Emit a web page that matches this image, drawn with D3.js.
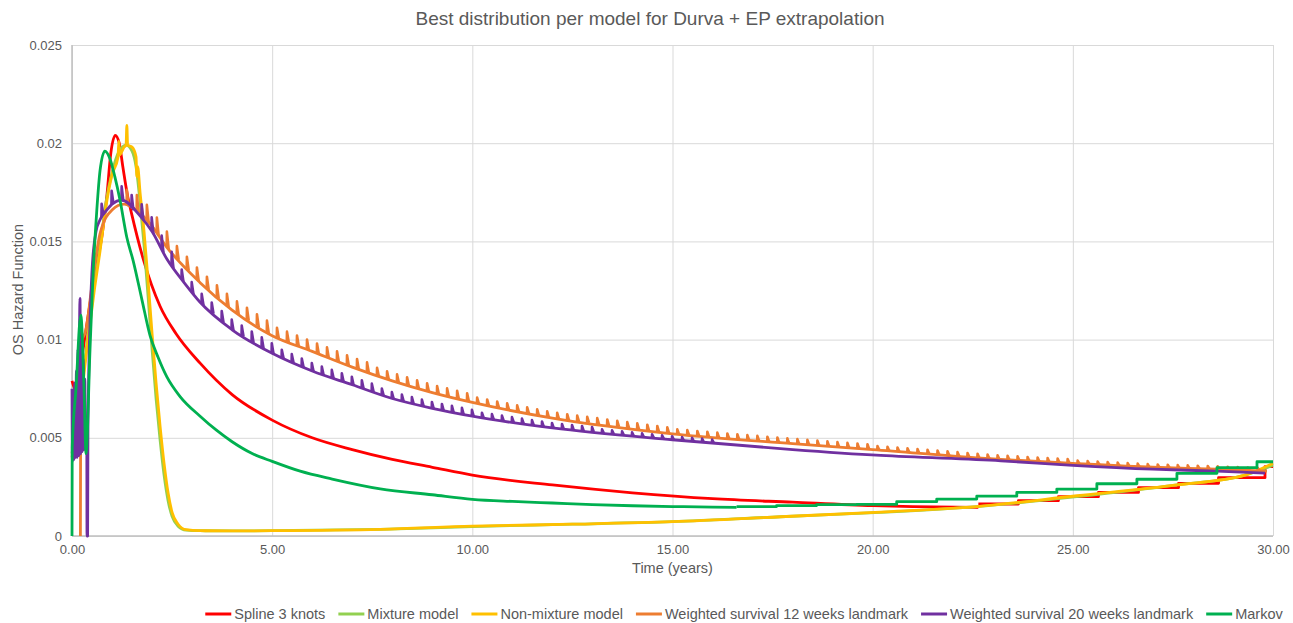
<!DOCTYPE html>
<html>
<head>
<meta charset="utf-8">
<script src="https://cdn.jsdelivr.net/npm/d3@7"></script>
<style>
  body { margin: 0; background: #fff; }
  text { font-family: "Liberation Sans", Arial, sans-serif; fill: #595959; }
</style>
</head>
<body>
<div id="chart"></div>
<script>
//  Axis ticks
var xTicks = [0, 5, 10, 15, 20, 25, 30];
var xTickLabels = ["0.00", "5.00", "10.00", "15.00", "20.00", "25.00", "30.00"];
var yTicks = [0, 0.005, 0.01, 0.015, 0.02, 0.025];
var yTickLabels = ["0", "0.005", "0.01", "0.015", "0.02", "0.025"];

//  Series names (legend order)
var seriesNames = ["Spline 3 knots", "Mixture model", "Non-mixture model",
  "Weighted survival 12 weeks landmark", "Weighted survival 20 weeks landmark", "Markov"];

//  Spline 3 knots
var splineT = [0, 0.1, 0.2, 0.35, 0.5, 0.6, 0.75, 0.87, 0.97, 1.08, 1.18, 1.27, 1.39, 1.49, 1.78, 2.2, 2.6, 3.2, 4, 5, 6, 7, 8, 9, 10, 12, 14, 16, 18, 20, 21, 22.64];
var splineV = [0.0079, 0.0074, 0.0085, 0.0105, 0.0125, 0.0137, 0.0153, 0.0173, 0.0195, 0.0204, 0.0200, 0.0188, 0.0173, 0.0164, 0.0141, 0.0117, 0.0103, 0.0088, 0.0072, 0.0059, 0.0050, 0.0044, 0.0039, 0.0035, 0.0031, 0.0026, 0.0022, 0.0019, 0.00172, 0.00155, 0.0015, 0.00146];
var splineStepT = [22.64, 23.64, 24.64, 25.64, 26.64, 27.64, 28.64, 29.8, 30];
var splineStepV = [0.00163, 0.0018, 0.0020, 0.00222, 0.00246, 0.00268, 0.00297, 0.00353, 0.00353];

//  Mixture model
var mixT = [0, 0.2, 0.4, 0.55, 0.7, 0.85, 1.0, 1.18, 1.35, 1.5, 1.6, 1.7, 1.8, 1.9, 2.0, 2.1, 2.2, 2.3, 2.4, 2.5, 2.65, 2.85, 3.2, 4, 5, 7.7, 10, 12.5, 15, 17.7, 20.2, 22.6, 25.1, 27.6, 29.3, 30];
var mixV = [0.0042, 0.0068, 0.0103, 0.0127, 0.0147, 0.0170, 0.0185, 0.0196, 0.0199, 0.0196, 0.0188, 0.0170, 0.0148, 0.0122, 0.0095, 0.0070, 0.0049, 0.0031, 0.0018, 0.0010, 0.0005, 0.0003, 0.00027, 0.00026, 0.00027, 0.00034, 0.00048, 0.0006, 0.00073, 0.00098, 0.0012, 0.0015, 0.002, 0.0026, 0.0031, 0.0036];

//  Non-mixture model
var nonMixT = [0, 0.2, 0.4, 0.55, 0.7, 0.85, 1.0, 1.15, 1.17, 1.19, 1.3, 1.35, 1.37, 1.39, 1.5, 1.6, 1.62, 1.64, 1.7, 1.8, 1.9, 2.0, 2.1, 2.2, 2.3, 2.4, 2.5, 2.65, 2.85, 3.2, 4, 5, 7.7, 10, 12.5, 15, 17.7, 20.2, 22.6, 25.1, 27.6, 29.3, 30];
var nonMixV = [0.0040, 0.0066, 0.0100, 0.0124, 0.0145, 0.0168, 0.0184, 0.0193, 0.0201, 0.0194, 0.0198, 0.0199, 0.0209, 0.0199, 0.0198, 0.0193, 0.0183, 0.0188, 0.0175, 0.0155, 0.0130, 0.0103, 0.0078, 0.0056, 0.0037, 0.0022, 0.0012, 0.0006, 0.00032, 0.00027, 0.00026, 0.00027, 0.00034, 0.0005, 0.0006, 0.00073, 0.00098, 0.00122, 0.0015, 0.00205, 0.0026, 0.0031, 0.0037];

//  Weighted survival 12 weeks landmark
var w12T = [0.21, 0.22, 0.35, 0.5, 0.7, 1.0, 1.3, 1.6, 1.95, 2.37, 3.2, 4, 5, 6, 7, 8, 9, 10, 12, 15, 18, 20, 23.2, 25, 27, 28.6, 29.85];
var w12V = [0, 0.0098, 0.0105, 0.0128, 0.0154, 0.0166, 0.0169, 0.0166, 0.0159, 0.0147, 0.0129, 0.0115, 0.0102, 0.0094, 0.0086, 0.0079, 0.0073, 0.0068, 0.0060, 0.0052, 0.0047, 0.0044, 0.0039, 0.0037, 0.0035, 0.0034, 0.0033];
var w12SpikeCuts = [2.5, 5, 7.5, 10, 15, 20, 25];
var w12SpikeAmp = [0.0008, 0.0006, 0.0005, 0.0004, 0.0003, 0.00025, 0.0002, 0.00015];

//  Weighted survival 20 weeks landmark
var w20T = [0, 0.01, 0.03, 0.05, 0.07, 0.09, 0.11, 0.13, 0.15, 0.17, 0.19, 0.2, 0.22, 0.24, 0.26, 0.28, 0.3, 0.32, 0.34, 0.36, 0.37, 0.375, 0.39, 0.4, 0.5, 0.6, 0.7, 0.87, 1.0, 1.24, 1.7, 2.0, 2.37, 2.8, 3.2, 4, 5, 6, 7, 8, 9, 10, 12, 15, 18, 20.2, 23.2, 25, 27, 28.6, 29.8];
var w20V = [0.0075, 0.0038, 0.0074, 0.0039, 0.0078, 0.0040, 0.0084, 0.0040, 0.0095, 0.0041, 0.0110, 0.0121, 0.0042, 0.0100, 0.0043, 0.0090, 0.0044, 0.0080, 0.0044, 0.0060, 0.0045, 0, 0, 0.0060, 0.0135, 0.0155, 0.0161, 0.0166, 0.0169, 0.0171, 0.0163, 0.0155, 0.0141, 0.0129, 0.0119, 0.0105, 0.0093, 0.0084, 0.0077, 0.0070, 0.0065, 0.0061, 0.0055, 0.0049, 0.0044, 0.0041, 0.00383, 0.0036, 0.0034, 0.0033, 0.0032];
var w20SpikeCuts = [2.5, 5, 7.5, 10, 13, 16];
var w20SpikeAmp = [0.0007, 0.0005, 0.0004, 0.00032, 0.00025, 0.00018, 0];

//  Markov
var markovT = [0, 0.005, 0.1, 0.22, 0.3, 0.35, 0.45, 0.53, 0.62, 0.7, 0.82, 0.95, 1.07, 1.2, 1.37, 1.53, 1.75, 1.95, 2.15, 2.37, 2.7, 3.2, 3.6, 4, 4.5, 5, 5.7, 6.5, 7.7, 9, 10, 11, 12, 13, 14, 15, 16, 16.6];
var markovV = [0, 0.0045, 0.0075, 0.01125, 0.0075, 0.0042, 0.0095, 0.0135, 0.0166, 0.0186, 0.0196, 0.0192, 0.0183, 0.0171, 0.0152, 0.0140, 0.0120, 0.0102, 0.0091, 0.0081, 0.0071, 0.0061, 0.0054, 0.0048, 0.0042, 0.0038, 0.0033, 0.0029, 0.0024, 0.0021, 0.00187, 0.00176, 0.00168, 0.0016, 0.00154, 0.0015, 0.00147, 0.00146];
var markovStepT = [16.6, 17.6, 18.6, 19.6, 20.6, 21.6, 22.6, 23.6, 24.6, 25.6, 26.6, 27.6, 28.6, 29.6, 30];
var markovStepV = [0.0015, 0.00155, 0.0016, 0.00161, 0.00175, 0.00188, 0.00203, 0.00222, 0.00239, 0.00266, 0.00289, 0.00319, 0.00348, 0.00378, 0.00378];

var colors = ["#ff0000", "#92d050", "#ffc000", "#ed7d31", "#7030a0", "#00b050"];

// ---------------------------------------------------------------------------------- //

var width = 1293, height = 623;
var plotLeft = 72, plotRight = 1273, plotTop = 45, plotBottom = 536;

var svg = d3.select("#chart").append("svg")
  .attr("width", width)
  .attr("height", height);

var x = d3.scaleLinear().domain([0, 30]).range([plotLeft, plotRight]);
var y = d3.scaleLinear().domain([0, 0.025]).range([plotBottom, plotTop]);

function zip(t, v) { return t.map(function (d, i) { return [d, v[i]]; }); }

//  Grid
svg.append("g")
  .attr("transform", "translate(0," + plotBottom + ")")
  .call(d3.axisBottom(x).tickValues(xTicks).tickSize(-(plotBottom - plotTop)).tickFormat(""))
  .call(function (g) { g.select(".domain").remove(); })
  .selectAll("line").attr("stroke", "#d9d9d9");

svg.append("g")
  .attr("transform", "translate(" + plotLeft + ",0)")
  .call(d3.axisLeft(y).tickValues(yTicks).tickSize(-(plotRight - plotLeft)).tickFormat(""))
  .call(function (g) { g.select(".domain").remove(); })
  .selectAll("line").attr("stroke", "#d9d9d9");

//  Axis lines
svg.append("line").attr("x1", plotLeft).attr("x2", plotRight).attr("y1", plotBottom).attr("y2", plotBottom)
  .attr("stroke", "#bfbfbf").attr("stroke-width", 1.5);
svg.append("line").attr("x1", plotLeft).attr("x2", plotLeft).attr("y1", plotTop).attr("y2", plotBottom)
  .attr("stroke", "#bfbfbf").attr("stroke-width", 1.5);

//  Tick labels
var xAxis = svg.append("g")
  .attr("transform", "translate(0," + plotBottom + ")")
  .call(d3.axisBottom(x).tickValues(xTicks).tickSize(0).tickPadding(9)
    .tickFormat(function (d, i) { return xTickLabels[i]; }));
xAxis.select(".domain").remove();
xAxis.selectAll("text").style("font-size", "13px").attr("fill", "#595959");

var yAxis = svg.append("g")
  .attr("transform", "translate(" + plotLeft + ",0)")
  .call(d3.axisLeft(y).tickValues(yTicks).tickSize(0).tickPadding(10)
    .tickFormat(function (d, i) { return yTickLabels[i]; }));
yAxis.select(".domain").remove();
yAxis.selectAll("text").style("font-size", "13px").attr("fill", "#595959");

//  Titles
svg.append("text").attr("x", 650).attr("y", 25).attr("text-anchor", "middle")
  .style("font-size", "19px").text("Best distribution per model for Durva + EP extrapolation");
svg.append("text").attr("x", (plotLeft + plotRight) / 2).attr("y", 573).attr("text-anchor", "middle")
  .style("font-size", "14.5px").text("Time (years)");
svg.append("text").attr("transform", "translate(23," + ((plotTop + plotBottom) / 2 - 1) + ") rotate(-90)")
  .attr("text-anchor", "middle")
  .style("font-size", "14.5px").text("OS Hazard Function");

// ---------------------------------------------------------------------------------- //

var smooth = d3.line().x(function (d) { return x(d[0]); }).y(function (d) { return y(d[1]); })
  .curve(d3.curveMonotoneX);
var stepped = d3.line().x(function (d) { return x(d[0]); }).y(function (d) { return y(d[1]); })
  .curve(d3.curveStepAfter);
var straight = d3.line().x(function (d) { return x(d[0]); }).y(function (d) { return y(d[1]); });

function drawLine(data, gen, color) {
  svg.append("path")
    .attr("d", gen(data))
    .attr("fill", "none")
    .attr("stroke", color)
    .attr("stroke-width", 2.8)
    .attr("stroke-linejoin", "round");
}

//  Quarterly cycle spikes on the weighted survival curves
function drawSpikes(t, v, start, cuts, amps, color) {
  var base = d3.scaleLinear().domain(t).range(v).clamp(true);
  var amp = d3.scaleThreshold().domain(cuts).range(amps);
  d3.range(start, t[t.length - 1], 0.25).forEach(function (s) {
    var a = amp(s);
    if (a <= 0) return;
    var pts = [[s - 0.005, base(s - 0.005)], [s, base(s) + a], [s + 0.045, base(s + 0.045)]];
    svg.append("path")
      .attr("d", straight(pts))
      .attr("fill", "none")
      .attr("stroke", color)
      .attr("stroke-width", 2.6)
      .attr("stroke-linejoin", "round");
  });
}

drawLine(zip(splineT, splineV), smooth, colors[0]);
drawLine(zip(splineStepT, splineStepV), stepped, colors[0]);

drawLine(zip(mixT, mixV), smooth, colors[1]);

drawLine(zip(nonMixT, nonMixV), smooth, colors[2]);

drawLine(zip(w12T, w12V), smooth, colors[3]);
drawSpikes(w12T, w12V, 1.37, w12SpikeCuts, w12SpikeAmp, colors[3]);

drawLine(zip(w20T, w20V), smooth, colors[4]);
drawSpikes(w20T, w20V, 0.74, w20SpikeCuts, w20SpikeAmp, colors[4]);

drawLine(zip(markovT, markovV), smooth, colors[5]);
drawLine(zip(markovStepT, markovStepV), stepped, colors[5]);

// ---------------------------------------------------------------------------------- //

//  Legend
var legend = svg.append("g");
var cursor = 0;
seriesNames.forEach(function (name, i) {
  var item = legend.append("g").attr("transform", "translate(" + cursor + ",0)");
  item.append("line").attr("x1", 0).attr("x2", 26).attr("y1", 0).attr("y2", 0)
    .attr("stroke", colors[i]).attr("stroke-width", 3);
  var label = item.append("text").attr("x", 29).attr("y", 5)
    .style("font-size", "14.5px").text(name);
  cursor += 29 + label.node().getComputedTextLength() + 13;
});
cursor -= 13;
legend.attr("transform", "translate(" + (744 - cursor / 2) + ",614)");
</script>
</body>
</html>
